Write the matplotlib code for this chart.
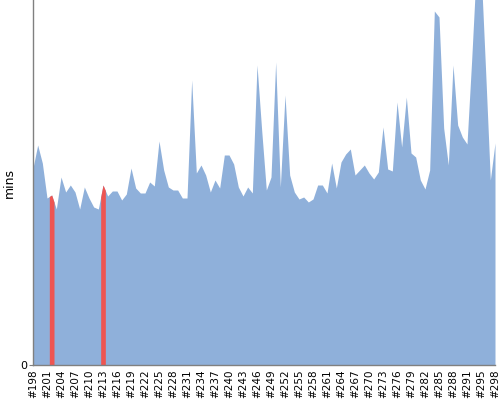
import numpy as np
import matplotlib
matplotlib.use('Agg')
import matplotlib.pyplot as plt

# build numbers (one build, #293, is missing from the history)
builds = list(range(198, 293)) + list(range(294, 299))

# build duration in minutes
durations = [
    9.85, 11.0, 10.1, 8.35, 8.5, 7.8, 9.4, 8.65, 9.0, 8.65,
    7.8, 8.9, 8.35, 7.9, 7.8, 9.0, 8.45, 8.7, 8.7, 8.25,
    8.55, 9.85, 8.85, 8.6, 8.6, 9.15, 8.95, 11.2, 9.75, 8.9,
    8.75, 8.75, 8.35, 8.35, 14.25, 9.6, 10.0, 9.5, 8.65, 9.25,
    8.85, 10.5, 10.5, 10.05, 8.9, 8.45, 8.9, 8.6, 15.0, 11.75,
    8.75, 9.4, 15.15, 8.9, 13.5, 9.5, 8.65, 8.3, 8.4, 8.15,
    8.3, 9.0, 9.0, 8.6, 10.1, 8.85, 10.15, 10.55, 10.8, 9.5,
    9.75, 10.0, 9.6, 9.3, 9.65, 11.9, 9.8, 9.7, 13.15, 10.9,
    13.4, 10.6, 10.4, 9.25, 8.8, 9.75, 17.7, 17.4, 11.85, 10.0,
    15.0, 12.0, 11.4, 11.05, 15.25, 19.85, 19.85, 14.65, 9.25, 11.1,
]

# failed builds, drawn in red
failed = [202, 213]

BLUE = '#8fb0da'
RED = '#ee5552'


def main():
    x = np.arange(len(builds))
    y = np.array(durations)

    fig = plt.figure(figsize=(5, 4), dpi=100)
    ax = fig.add_axes([0.066, 0.0875, 0.924, 0.9125])

    ax.fill_between(x, y, color=BLUE, lw=0)

    # red stripe under the curve for each failed build
    for b in failed:
        i = builds.index(b)
        xs = np.linspace(i - 0.5, i + 0.5, 30)
        ax.fill_between(xs, np.interp(xs, x, y), color=RED, lw=0)

    ax.set_xlim(0, len(builds) - 1)
    ax.set_ylim(0, 18.25)

    ticks = x[::3]
    ax.set_xticks(ticks)
    ax.set_xticklabels(['#%d' % builds[i] for i in ticks], rotation=90,
                       fontsize=7.5)
    ax.tick_params(axis='x', length=0, pad=3)
    ax.set_yticks([0])
    ax.tick_params(axis='y', length=3, color='#808080', labelsize=8, pad=1)
    ax.set_ylabel('mins', fontsize=9)
    ax.yaxis.set_label_coords(-0.037, 0.5)

    for s in ['top', 'right']:
        ax.spines[s].set_visible(False)
    for s in ['left', 'bottom']:
        ax.spines[s].set_color('#808080')
        ax.spines[s].set_linewidth(1)

    fig.savefig('out.png', dpi=100)


if __name__ == '__main__':
    main()
